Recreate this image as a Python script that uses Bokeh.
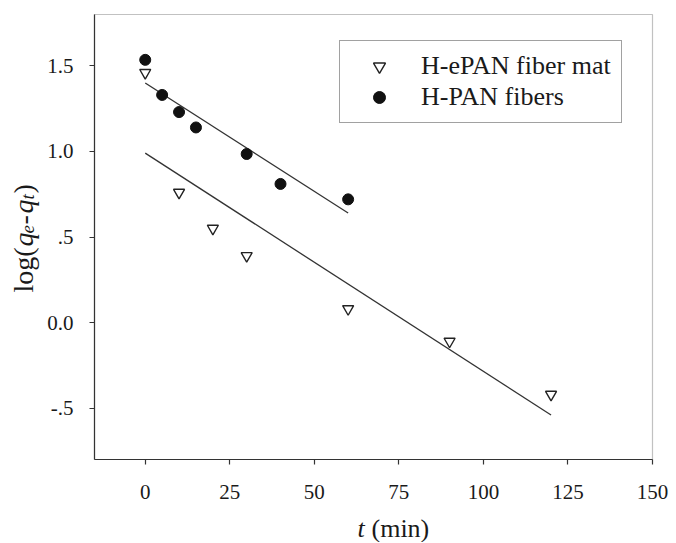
import math
from bokeh.plotting import figure
from bokeh.models import (Range1d, FixedTicker, Legend, LegendItem, Label, BoxAnnotation)
from bokeh.embed import file_html
from bokeh.resources import INLINE

# ---- data ----
epan_t = [0, 10, 20, 30, 60, 90, 120]
epan_log = [1.46, 0.76, 0.55, 0.39, 0.08, -0.11, -0.42]
pan_t = [0, 5, 10, 15, 30, 40, 60]
pan_log = [1.535, 1.33, 1.23, 1.14, 0.985, 0.81, 0.72]
fit_epan_t = [0, 120]
fit_epan_log = [0.99, -0.54]
fit_pan_t = [0, 60]
fit_pan_log = [1.40, 0.64]
x_ticks = [0, 25, 50, 75, 100, 125, 150]
y_ticks = [-0.5, 0.0, 0.5, 1.0, 1.5]
y_tick_labels = ["-.5", "0.0", ".5", "1.0", "1.5"]
legend_labels = ["H-ePAN fiber mat", "H-PAN fibers"]
x_lim = (-15, 150)
y_lim = (-0.8, 1.8)

FONT = "Liberation Serif"
INK = "#1a1a1a"

# layout (pixels of the canvas)
W, H = 672, 542
box_l, box_r, box_t, box_b = 94, 652, 14, 459
sx = (box_r - box_l) / (x_lim[1] - x_lim[0])
sy = (box_b - box_t) / (y_lim[1] - y_lim[0])
xr = Range1d(x_lim[0] - box_l / sx, x_lim[1] + (W - box_r) / sx)
yr = Range1d(y_lim[0] - (H - box_b) / sy, y_lim[1] + box_t / sy)

p = figure(width=W, height=H, output_backend="svg", toolbar_location=None,
           x_range=xr, y_range=yr,
           min_border_left=0, min_border_right=0, min_border_top=0, min_border_bottom=0)
p.grid.visible = False
p.background_fill_color = "white"
p.border_fill_color = "white"
p.outline_line_color = None

for ax in (p.xaxis[0], p.yaxis[0]):
    ax.axis_line_color = "#333333"
    ax.axis_line_width = 1.2
    ax.major_tick_in = 0
    ax.major_tick_out = 5
    ax.major_tick_line_color = "#333333"
    ax.major_tick_line_width = 1.2
    ax.minor_tick_line_color = None
    ax.major_label_text_font = FONT
    ax.major_label_text_font_size = "21px"
    ax.major_label_text_color = INK
p.xaxis[0].ticker = FixedTicker(ticks=x_ticks)
p.yaxis[0].ticker = FixedTicker(ticks=y_ticks)
p.yaxis[0].major_label_overrides = {v: s for v, s in zip(y_ticks, y_tick_labels)}
p.xaxis[0].major_label_standoff = 20
p.yaxis[0].major_label_standoff = 16
p.xaxis[0].fixed_location = y_lim[0]
p.yaxis[0].fixed_location = x_lim[0]
p.xaxis[0].bounds = x_lim
p.yaxis[0].bounds = y_lim

# plot box
p.add_layout(BoxAnnotation(left=x_lim[0], right=x_lim[1], bottom=y_lim[0], top=y_lim[1],
                           fill_alpha=0, line_color="#333333", line_width=1.2, level="underlay"))

# fit lines
p.line(fit_pan_t, fit_pan_log, line_color="#333333", line_width=1.3)
p.line(fit_epan_t, fit_epan_log, line_color="#333333", line_width=1.3)

# points
r_epan = p.scatter(epan_t, epan_log, marker="inverted_triangle", size=11,
                   fill_color="white", line_color="#222222", line_width=1.4)
r_pan = p.scatter(pan_t, pan_log, marker="circle", size=11,
                  fill_color="#111111", line_color="#111111")

legend = Legend(items=[LegendItem(label=legend_labels[0], renderers=[r_epan]),
                       LegendItem(label=legend_labels[1], renderers=[r_pan])],
                location=(339, H - 123), margin=0, padding=10,
                glyph_width=58, glyph_height=30, label_height=30, spacing=1,
                label_standoff=13,
                label_text_font=FONT, label_text_font_size="26px",
                label_text_color=INK,
                border_line_color="#444444", border_line_width=1.2,
                background_fill_color="white", background_fill_alpha=1.0)
p.add_layout(legend, "center")

# y axis label: log(q_e-q_t), rotated (screen coords, y from the bottom)
base_x = 23
sub_x = base_x + 4
ang = math.pi / 2
pieces = [
    ("log(", base_x, 292, "28px", "normal"),
    ("q", base_x, 246, "28px", "italic"),
    ("e", sub_x, 233, "19px", "italic"),
    ("-", base_x, 224, "28px", "normal"),
    ("q", base_x, 213, "28px", "italic"),
    ("t", sub_x, 199, "19px", "italic"),
    (")", base_x, 193, "28px", "normal"),
]
for txt, xx, yy, fs, st in pieces:
    p.add_layout(Label(x=xx, y=H - yy, x_units="screen", y_units="screen", text=txt,
                       angle=ang, text_font=FONT, text_font_size=fs, text_font_style=st,
                       text_color=INK, text_align="left", text_baseline="alphabetic"))

# x axis label: t (min)
p.add_layout(Label(x=357, y=H - 528, x_units="screen", y_units="screen", text="t",
                   text_font=FONT, text_font_size="26px", text_font_style="italic",
                   text_color=INK, text_align="left", text_baseline="alphabetic"))
p.add_layout(Label(x=371, y=H - 528, x_units="screen", y_units="screen", text="(min)",
                   text_font=FONT, text_font_size="26px",
                   text_color=INK, text_align="left", text_baseline="alphabetic"))

open("out.html", "w").write(file_html(p, INLINE))
